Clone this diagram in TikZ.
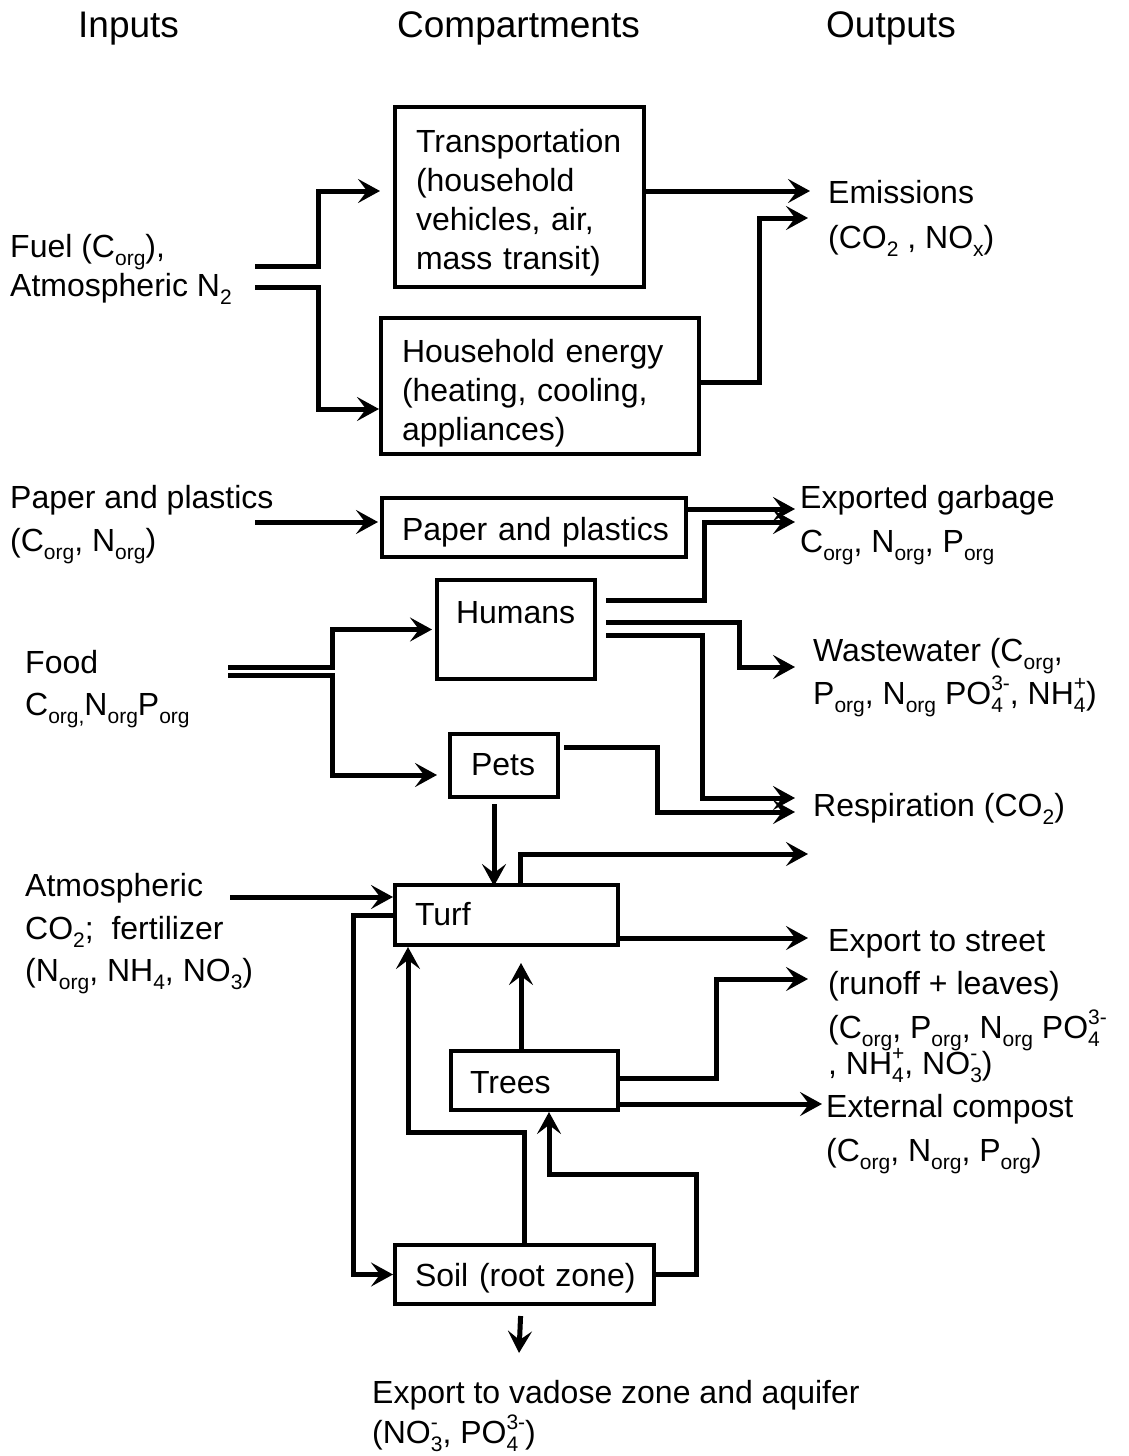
\documentclass[tikz,border=0pt]{standalone}
\usepackage{fontspec}
\setmainfont{Liberation Sans}
\usetikzlibrary{arrows.meta}
\lineskiplimit=-100pt
\hyphenpenalty=10000
\exhyphenpenalty=10000
\newcommand{\subx}[1]{\raisebox{-0.26em}{\fontsize{21}{21}\selectfont #1}}
\newcommand{\supx}[1]{\raisebox{0.42em}{\fontsize{21}{21}\selectfont #1}}
\newcommand{\subsupx}[2]{\vbox{\lineskiplimit=-\maxdimen\lineskip=0pt\baselineskip=0pt\halign{##\hfil\cr\supx{#2}\cr\subx{#1}\cr}}}
\tikzset{
  box/.style={draw, line width=4pt, anchor=north west, inner ysep=0pt, align=left, font=\fontsize{32}{39}\selectfont},
  lbl/.style={anchor=base west, inner sep=0pt, align=left, font=\fontsize{32}{43}\selectfont},
  head/.style={anchor=base west, inner sep=0pt, font=\fontsize{37}{40}\selectfont},
  flow/.style={line width=5pt, -{Stealth[length=22pt,width=24pt,inset=9pt]}}
}

\begin{document}
\begin{tikzpicture}[x=1pt,y=-1pt]
				\useasboundingbox (0,0) rectangle (1129,1456);

				\node[head] (hin) at (78,37) {Inputs};
				\node[head] (hcomp) at (397,37) {Compartments};
				\node[head] (hout) at (826,37) {Outputs};

				%compartments
				\node[box, inner xsep=21pt, text width=207pt, text height=45pt, text depth=135pt] (trans) at (393,105) {Transportation\\(household\\vehicles,~air,\\mass~transit)};
				\node[box, inner xsep=21pt, text width=276pt, text height=44pt, text depth=92pt] (hhe) at (379,316) {Household~energy\\(heating,~cooling,\\appliances)};
				\node[box, inner xsep=20pt, text width=264pt, text height=42pt, text depth=17pt] (paperbox) at (380,496) {Paper~and~plastics};
				\node[box, inner xsep=19pt, text width=120pt, text height=43pt, text depth=56pt] (humans) at (435,578) {Humans};
				\node[box, inner xsep=21pt, text width=66pt, text height=41pt, text depth=22pt] (pets) at (448,732) {Pets};
				\node[box, inner xsep=20pt, text width=183pt, text height=40pt, text depth=20pt] (turf) at (393,883) {Turf};
				\node[box, inner xsep=19pt, text width=129pt, text height=42pt, text depth=17pt] (trees) at (449,1049) {Trees};
				\node[box, inner xsep=20pt, text width=219pt, text height=41pt, text depth=18pt] (soil) at (393,1243) {Soil~(root~zone)};

				%inputs (anchored on the last line)
				\node[lbl] (fuel) at (10,296) {Fuel (C\subx{org}),\\[-4pt]Atmospheric N\subx{2}};
				\node[lbl] (paperin) at (10,551) {Paper and plastics\\(C\subx{org}, N\subx{org})};
				\node[lbl] (food) at (25,715) {Food\\[-1pt]C\subx{org,}N\subx{org}P\subx{org}};
				\node[lbl] (atmos) at (25,981) {Atmospheric\\CO\subx{2};~ fertilizer\\[-1pt](N\subx{org}, NH\subx{4}, NO\subx{3})};

				%outputs
				\node[lbl] (emis) at (828,248) {Emissions\\[2pt](CO\subx{2} , NO\subx{x})};
				\node[lbl] (garb) at (800,552) {Exported garbage\\[1pt]C\subx{org}, N\subx{org}, P\subx{org}};
				\node[lbl] (waste) at (813,704) {Wastewater (C\subx{org},\\P\subx{org}, N\subx{org} PO\subsupx{4}{3-}, NH\subsupx{4}{+})};
				\node[lbl] (resp) at (813,816) {Respiration (CO\subx{2})};
				\node[lbl] (street) at (828,1074) {Export to street\\(runoff + leaves)\\[1pt](C\subx{org}, P\subx{org}, N\subx{org} PO\subsupx{4}{3-}\\[-7pt], NH\subsupx{4}{+}, NO\subsupx{3}{-})};
				\node[lbl] (comp) at (826,1161) {External compost\\[1pt](C\subx{org}, N\subx{org}, P\subx{org})};
				\node[lbl] (vad) at (372,1443) {Export to vadose zone and aquifer\\[-3pt](NO\subsupx{3}{-}, PO\subsupx{4}{3-})};

				%free ends of the flows
				\coordinate (fuelA) at (255,266);
				\coordinate (fuelB) at (255,287);
				\coordinate (paperA) at (255,522);
				\coordinate (foodA) at (228,667);
				\coordinate (foodB) at (228,675);
				\coordinate (atmosA) at (230,897);
				\coordinate (emA) at (810,191);
				\coordinate (emB) at (808,218);
				\coordinate (garbA) at (795,509);
				\coordinate (garbB) at (795,522);
				\coordinate (wasteA) at (795,667);
				\coordinate (respA) at (795,798);
				\coordinate (respB) at (795,812);
				\coordinate (turfA) at (808,854);
				\coordinate (streetA) at (808,938);
				\coordinate (streetB) at (808,979);
				\coordinate (compA) at (822,1104);
				\coordinate (vadA) at (519,1353);

				\draw[flow, shorten >=13pt] (fuelA) -- ++(63,0) |- (trans.west |- emA);
				\draw[flow] (fuelB) -- ++(63,0) |- ([yshift=-23pt]hhe.west);
				\draw[flow] (trans.east |- emA) -- (emA);
				\draw[flow] ([yshift=4pt]hhe.east) -- ++(58,0) |- (emB);

				\draw[flow, shorten >=2pt] (paperA) -- (paperbox.west |- paperA);
				\draw[flow] (paperbox.east |- garbA) -- (garbA);
				\draw[flow, shorten <=9pt] ([yshift=29.5pt]humans.east) -- ++(107,0) |- (garbB);
				\draw[flow, shorten <=9pt] ([yshift=7.5pt]humans.east) -- ++(142,0) |- (wasteA);
				\draw[flow, shorten <=9pt] ([yshift=-5.5pt]humans.east) -- ++(105,0) |- (respA);
				\draw[flow, shorten <=4pt] ([yshift=18.5pt]pets.east) -- ++(97,0) |- (respB);

				\draw[flow, shorten >=3pt] (foodA) -- ++(104,0) |- (humans.west);
				\draw[flow, shorten >=11pt] (foodB) -- ++(104,0) |- ([yshift=-9.5pt]pets.west);
				\draw[flow, shorten <=5pt] ([xshift=-10pt]pets.south) -- ++(0,87);

				\draw[flow] (atmosA) -- (turf.west |- atmosA);
				\draw[flow] ([xshift=13.5pt]turf.north) |- (turfA);
				\draw[flow] (turf.east |- streetA) -- (streetA);
				\draw[flow] (turf.west) -- ++(-40,0) |- (soil.west);

				\draw[flow] (soil.north) -- ++(0,-111) -| ([xshift=15pt]turf.south west);
				\draw[flow] (soil.east) -- ++(40,0) -- ++(0,-100) -| ([xshift=14.5pt]trees.south);
				\draw[flow, shorten >=10pt] ([xshift=-13.5pt]trees.north) -- ++(0,-96);
				\draw[flow] ([yshift=2.5pt]trees.east) -- ++(96,0) |- (streetB);
				\draw[flow] (trees.east |- compA) -- (compA);
				\draw[flow, shorten <=10pt] ([xshift=-3.5pt]soil.south) -- (vadA);
			\end{tikzpicture}
\end{document}
